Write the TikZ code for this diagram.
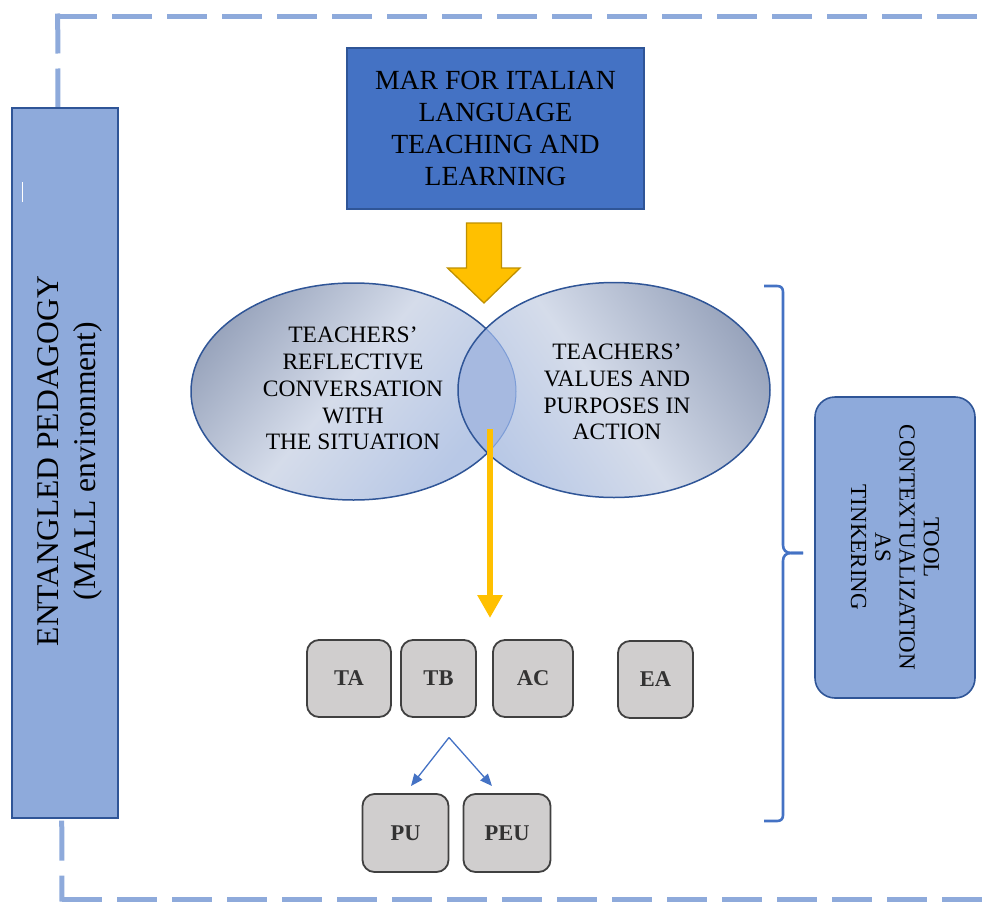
\documentclass[tikz,border=0pt]{standalone}
\usepackage{fontspec}
\setmainfont{Liberation Serif}
\usetikzlibrary{arrows.meta,shapes.geometric}

\definecolor{edgeblue}{HTML}{2F5597}
\definecolor{accentblue}{HTML}{4472C4}
\definecolor{paleblue}{HTML}{8EAADB}
\definecolor{lensblue}{HTML}{A6B9E0}
\definecolor{goldfill}{HTML}{FFC000}
\definecolor{goldedge}{HTML}{BF9000}
\definecolor{chipfill}{HTML}{D0CECE}
\definecolor{chipedge}{HTML}{404040}
\definecolor{chiptext}{HTML}{333333}
\definecolor{shadedark}{HTML}{939FB8}
\definecolor{shadelight}{HTML}{D5DCEA}
\definecolor{shadeblue}{HTML}{B8C8E6}

% soft gradients for the two ellipses
\pgfdeclarehorizontalshading{venleft}{100bp}{color(0bp)=(shadedark); color(22bp)=(shadedark);
  color(48bp)=(shadelight); color(72bp)=(shadeblue); color(100bp)=(shadeblue)}
\pgfdeclarehorizontalshading{venright}{100bp}{color(0bp)=(shadeblue); color(25bp)=(shadeblue);
  color(48bp)=(shadelight); color(78bp)=(shadedark); color(100bp)=(shadedark)}

\begin{document}
\begin{tikzpicture}[x=1pt,y=-1pt,
  framedash/.style={paleblue, line width=5pt},
  sidebox/.style={draw=edgeblue, fill=paleblue, line width=1.6pt, inner sep=0pt},
  chip/.style={draw=chipedge, fill=chipfill, line width=1.8pt, rounded corners=12pt,
    minimum height=77pt, inner sep=0pt, text=chiptext,
    font=\fontsize{22.5}{27}\selectfont\bfseries},
  ellipsetext/.style={align=center, inner sep=0pt, text=black,
    font=\fontsize{23.5}{26.8}\selectfont},
  goldline/.style={goldfill, line width=6pt, -{Triangle[width=24pt,length=23pt]}},
  splitline/.style={accentblue, line width=1.3pt, -{Triangle[width=10pt,length=12pt]}},
  brace/.style={accentblue, line width=2.6pt, line join=round}
]
\useasboundingbox (0,0) rectangle (991,902);

% dashed outer frame (open to the right)
\draw[framedash, dash pattern=on 40pt off 15pt] (57,16) -- (1000,16);
\draw[framedash, dash pattern=on 40pt off 15pt] (62,899) -- (1000,899);
\draw[framedash, dash pattern=on 40pt off 15pt] (57.7,13.5) -- (58,112);
\draw[framedash, dash pattern=on 40pt off 15pt, dash phase=14pt] (62,901.5) -- (61.7,812);

% left vertical banner
\node[sidebox, minimum width=106pt, minimum height=710pt] (entbox) at (65,463) {};
\node[rotate=90, align=center, inner sep=0pt, font=\fontsize{31.6}{37}\selectfont]
  (entlabel) at (69.5,461) {ENTANGLED PEDAGOGY\\(MALL environment)};
\draw[white, line width=0.8pt] (22.6,182) -- (22.6,202);

% top title box
\node[draw=edgeblue, fill=accentblue, line width=1.4pt, minimum width=297pt,
  minimum height=161pt, align=center, inner sep=0pt,
  font=\fontsize{27.7}{32.2}\selectfont] (mar) at (495.5,128.5)
  {MAR FOR ITALIAN\\LANGUAGE\\TEACHING AND\\LEARNING};

% block arrow below the title
\draw[fill=goldfill, draw=goldedge, line width=1.3pt, line join=miter]
  (466.5,223) -- (501.5,223) -- (501.5,268) -- (520,268) -- (484,303)
  -- (447.5,268) -- (466.5,268) -- cycle;

% overlapping ellipses
\shade[shading=venleft, shading angle=-40]
  (353.5,391.5) ellipse [x radius=162.5pt, y radius=108.5pt];
\draw[edgeblue, line width=1.5pt] (353.5,391.5) ellipse [x radius=162.5pt, y radius=108.5pt];
\shade[shading=venright, shading angle=35]
  (614,390) ellipse [x radius=156pt, y radius=107.5pt];
\begin{scope}
  \clip (353.5,391.5) ellipse [x radius=162.5pt, y radius=108.5pt];
  \fill[lensblue] (614,390) ellipse [x radius=156pt, y radius=107.5pt];
\end{scope}
\begin{scope}
  \clip (614,390) ellipse [x radius=156pt, y radius=107.5pt];
  \draw[accentblue!70!white, line width=1pt] (353.5,391.5) ellipse [x radius=162.5pt, y radius=108.5pt];
\end{scope}
\draw[edgeblue, line width=1.5pt] (614,390) ellipse [x radius=156pt, y radius=107.5pt];

\node[ellipsetext] (refl) at (353,388.5)
  {TEACHERS’\\REFLECTIVE\\CONVERSATION\\WITH\\THE SITUATION};
\node[ellipsetext] (vals) at (617,392)
  {TEACHERS’\\VALUES AND\\PURPOSES IN\\ACTION};

% arrow from the overlap down to the row of codes
\coordinate (lensfoot) at (490,429);
\coordinate (rowtop) at (490,618);
\draw[goldline] (lensfoot) -- (rowtop);

% code boxes
\node[chip, minimum width=84pt] (ta) at (349,678.5) {TA};
\node[chip, minimum width=75pt] (tb) at (438.5,678.5) {TB};
\node[chip, minimum width=80pt] (ac) at (533,678.5) {AC};
\node[chip, minimum width=75pt] (ea) at (655.5,679.5) {EA};
\node[chip, minimum width=86pt, minimum height=78pt] (pu) at (405.5,833) {PU};
\node[chip, minimum width=87pt, minimum height=78pt] (peu) at (507,833) {PEU};

% split below TB
\coordinate (split) at (449,737.5);
\coordinate (puin) at (411,786);
\coordinate (peuin) at (492,786);
\draw[splitline] (split) -- (puin);
\draw[splitline] (split) -- (peuin);

% right brace
\draw[brace] (764,286) -- (777,286) .. controls (781,286) and (783,288) .. (783,292)
  -- (783,545) .. controls (783,550) and (786,553) .. (791,553) -- (803,553);
\draw[brace] (803,553) -- (791,553) .. controls (786,553) and (783,556) .. (783,561)
  -- (783,815) .. controls (783,819) and (781,821) .. (777,821) -- (764,821);

% right rounded box
\node[sidebox, rounded corners=20pt, rotate=-90, minimum width=301pt, minimum height=160pt,
  align=center, font=\fontsize{23}{24.3}\selectfont] (tool) at (895,547.5)
  {TOOL\\CONTEXTUALIZATION\\AS\\TINKERING};
\end{tikzpicture}
\end{document}
